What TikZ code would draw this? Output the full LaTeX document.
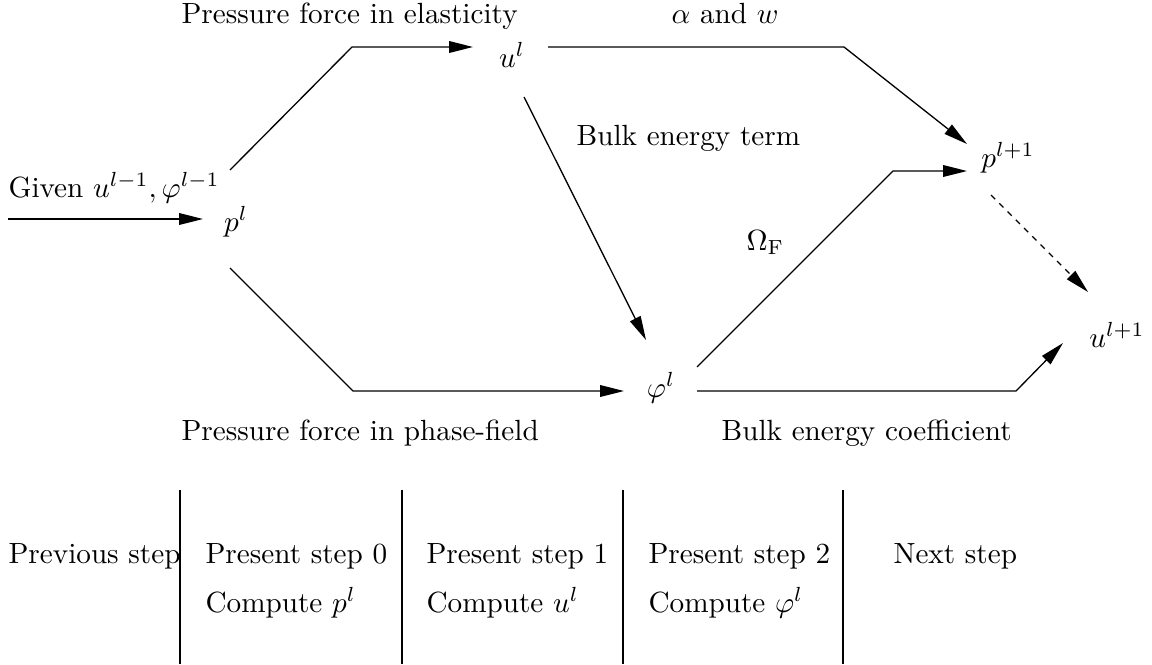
\documentclass[tikz,border=0pt]{standalone}
\usetikzlibrary{arrows.meta}
\tikzset{
  flow/.style={line width=0.45pt, -{Triangle[length=8.2pt,width=4pt]}},
  flowdash/.style={flow, dash pattern=on 2pt off 2pt},
  plainline/.style={line width=0.45pt},
  seprule/.style={line width=0.5pt},
  lbl/.style={anchor=base west, inner sep=0pt},
  lblc/.style={anchor=base, inner sep=0pt},
  mnode/.style={inner sep=0pt},
}
\begin{document}
\begin{tikzpicture}[x=0.3425pt, y=-0.3425pt]
\useasboundingbox (0,0) rectangle (1152,664);

% math nodes
\node[mnode] (pl)   at (236,222)  {$p^l$};
\node[mnode] (ul)   at (512,55)   {$u^l$};
\node[mnode] (phil) at (661,388)  {$\varphi^l$};
\node[mnode] (pl1)  at (1008,158) {$p^{l+1}$};
\node[mnode] (ul1)  at (1117,335) {$u^{l+1}$};

% labels
\node[lbl] (given) at (8,197) {Given $u^{l-1},\varphi^{l-1}$};
\node[lbl] (lab1) at (181,23) {Pressure force in elasticity};
\node[lblc] (lab2) at (725,23) {$\alpha$ and $w$};
\node[lbl] (lab3) at (576,145) {Bulk energy term};
\node[lbl] (lab4) at (746,250) {$\Omega_{\mathrm{F}}$};
\node[lbl] (lab5) at (181,440) {Pressure force in phase-field};
\node[lbl] (lab6) at (721,440) {Bulk energy coefficient};

% connector coordinates
\coordinate (start) at (8,219);
\coordinate (pl-in) at (203,219);
\coordinate (pl-up) at (230,170);
\coordinate (pl-dn) at (230,268);
\coordinate (b1) at (352,47);
\coordinate (ul-in) at (473,47);
\coordinate (b2) at (353,391);
\coordinate (phil-in) at (624,391);
\coordinate (ul-out) at (548,47);
\coordinate (b3) at (844,47);
\coordinate (pl1-in1) at (967,144);
\coordinate (ul-dn) at (524,97);
\coordinate (phil-top) at (646,340);
\coordinate (phil-up) at (697,367);
\coordinate (b4) at (893,171);
\coordinate (pl1-in2) at (967,171);
\coordinate (phil-out) at (697,391);
\coordinate (b5) at (1016,391);
\coordinate (ul1-in1) at (1063,343);
\coordinate (pl1-dn) at (991,195);
\coordinate (ul1-in2) at (1088,292);

% connectors
\draw[flow] (start) -- (pl-in);
\draw[flow] (pl-up) -- (b1) -- (ul-in);
\draw[flow] (pl-dn) -- (b2) -- (phil-in);
\draw[flow] (ul-out) -- (b3) -- (pl1-in1);
\draw[flow] (ul-dn) -- (phil-top);
\draw[flow] (phil-up) -- (b4) -- (pl1-in2);
\draw[flow] (phil-out) -- (b5) -- (ul1-in1);
\draw[flowdash] (pl1-dn) -- (ul1-in2);

% bottom step table
\foreach \x/\n in {180/s1,402/s2,623/s3,843/s4}{
  \coordinate (\n-t) at (\x,490);
  \coordinate (\n-b) at (\x,664);
  \draw[seprule] (\n-t) -- (\n-b);
}
\node[lbl] (prev) at (8,563) {Previous step};
\node[lbl] (p0) at (205,563) {Present step 0};
\node[lbl] (c0) at (205,612) {Compute $p^l$};
\node[lbl] (p1) at (426,563) {Present step 1};
\node[lbl] (c1) at (426,612) {Compute $u^l$};
\node[lbl] (p2) at (648,563) {Present step 2};
\node[lbl] (c2) at (648,612) {Compute $\varphi^l$};
\node[lbl] (next) at (893,563) {Next step};
\end{tikzpicture}
\end{document}
